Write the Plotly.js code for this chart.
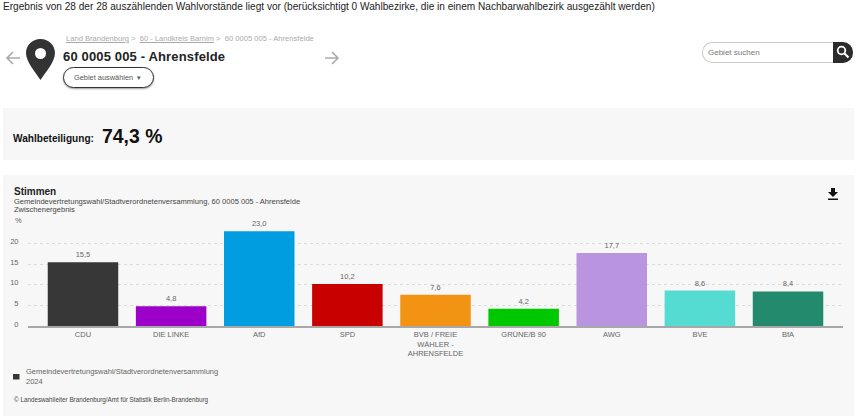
<!DOCTYPE html>
<html lang="de">
<head>
<meta charset="utf-8">
<title>Wahlergebnis Ahrensfelde</title>
<script src="https://cdn.plot.ly/plotly-3.0.1.min.js"></script>
<style>
  html,body{margin:0;padding:0;background:#fff;width:856px;height:417px;overflow:hidden;font-family:"Liberation Sans",Arial,sans-serif}
  .abs{position:absolute;white-space:nowrap}
  #panel1{left:3px;top:108px;width:851px;height:52px;background:#f7f7f7}
  #panel2{left:3px;top:175px;width:851px;height:241px;background:#f7f7f7}
  #chart{position:absolute;left:3px;top:175px;width:851px;height:241px}
  .crumb{font-size:7.6px;color:#aaa}
  .crumb u{color:#aaa}
  #btn{left:63px;top:67px;width:79px;height:19px;border:1px solid #333;border-radius:11px;box-shadow:0 1px 2px #999;font-size:7.4px;color:#555;line-height:19px;padding-left:10px;background:#fff}
  #search{left:702px;top:42px;width:125px;height:19px;border:1px solid #ccc;border-right:0;border-radius:10px 0 0 10px;font-size:8px;color:#777;line-height:19px;padding-left:5px;box-sizing:content-box}
  #searchbtn{left:833px;top:42px;width:20px;height:21px;background:#2b2b2b;border-radius:0 10px 10px 0}
</style>
</head>
<body>
<div class="abs" style="left:3px;top:0;font-size:10.1px;line-height:14px;color:#222">Ergebnis von 28 der 28 auszählenden Wahlvorstände liegt vor (berücksichtigt 0 Wahlbezirke, die in einem Nachbarwahlbezirk ausgezählt werden)</div>

<svg class="abs" style="left:5px;top:50px" width="16" height="16" viewBox="0 0 16 16"><path d="M15 8H2M8 2L2 8l6 6" fill="none" stroke="#aaa" stroke-width="1.6"/></svg>
<svg class="abs" style="left:25px;top:38px" width="32" height="44" viewBox="0 0 32 44"><path fill-rule="evenodd" d="M15.5 1C7 1 1 7.500 1 15c0 9 10 20 14.500 27C20 35 30 24 30 15 30 7.500 24 1 15.500 1zM15.500 10a5.500 5.500 0 1 1 0 11 5.500 5.500 0 0 1 0-11z" fill="#333"/></svg>
<div class="abs crumb" style="left:66px;top:34px"><u>Land Brandenburg</u> &gt;&nbsp; <u>60 - Landkreis Barnim</u> &gt;&nbsp; 60 0005 005 - Ahrensfelde</div>
<div class="abs" style="left:63px;top:49px;font-size:13px;font-weight:bold;color:#222;letter-spacing:.15px">60 0005 005 - Ahrensfelde</div>
<div class="abs" id="btn">Gebiet auswählen &nbsp;▾</div>
<svg class="abs" style="left:324px;top:50px" width="16" height="16" viewBox="0 0 16 16"><path d="M1 8h13M8 2l6 6-6 6" fill="none" stroke="#aaa" stroke-width="1.6"/></svg>

<div class="abs" id="search">Gebiet suchen</div>
<div class="abs" id="searchbtn"><svg width="20" height="20" viewBox="0 0 20 20"><circle cx="8.500" cy="8.500" r="3.800" fill="none" stroke="#fff" stroke-width="1.800"/><path d="M11.500 11.500l4 4" stroke="#fff" stroke-width="2.200"/></svg></div>

<div class="abs" id="panel1"></div>
<div class="abs" style="left:13px;top:133px;font-size:10.1px;font-weight:bold;color:#111">Wahlbeteiligung:</div>
<div class="abs" style="left:102px;top:125px;font-size:19.4px;font-weight:bold;color:#111">74,3 %</div>

<div class="abs" id="panel2"></div>
<div id="chart"></div>
<svg class="abs" style="left:827px;top:188px" width="12" height="13" viewBox="0 0 12 13"><path d="M4 0h4v4h3L6 9 1 4h3z" fill="#111"/><rect x="1" y="10.500" width="10" height="1.500" fill="#111"/></svg>

<script>
// values
const parties = ['CDU','DIE LINKE','AfD','SPD','BVB / FREIE<br>WÄHLER -<br>AHRENSFELDE','GRÜNE/B 90','AWG','BVE','BfA'];
const shares = [15.5,4.8,23.0,10.2,7.6,4.2,17.7,8.6,8.4];
const barColors = ['#373737','#9d00c8','#009ee0','#c80000','#f39314','#00c800','#b995e0','#55dcd2','#248a6e'];
const yTicks = [0,5,10,15,20];
const textColor = '#666';

function note(text,x,y,size,color){
  return {text:text,xref:'paper',yref:'paper',x:x,y:y,xanchor:'left',yanchor:'middle',align:'left',showarrow:false,
    font:{size:size,color:color||textColor},borderpad:0};
}
// pixel position in the panel -> paper coords
const W=851,H=241,ml=25,mr=11,mt=48,mb=90;
const px=x=>(x-3-ml)/(W-ml-mr);
const py=y=>1-(y-175-mt)/(H-mt-mb);

const trace={type:'bar',x:parties,y:shares,width:0.8,
  marker:{color:barColors},
  texttemplate:'%{y:.1f}',textposition:'outside',cliponaxis:false,
  textfont:{size:7.5,color:textColor},hoverinfo:'x+y'};

const layout={
  width:W,height:H,
  margin:{l:ml,r:mr,t:mt,b:mb,pad:0},
  paper_bgcolor:'rgba(0,0,0,0)',plot_bgcolor:'rgba(0,0,0,0)',
  separators:', ',
  font:{family:'"Liberation Sans",Arial,sans-serif',size:7.5,color:textColor},
  showlegend:false,
  title:{text:'<b>Stimmen</b>',x:11/W,xanchor:'left',y:1-16/H,yanchor:'middle',font:{size:10,color:'#222'}},
  xaxis:{type:'category',range:[-0.624,8.624],tickangle:0,showgrid:false,showline:true,linecolor:'#a8a8a8',linewidth:1.5,
    ticks:'',tickfont:{size:7.5,color:textColor},automargin:false},
  yaxis:{range:[0,25],tickvals:yTicks,showline:false,zeroline:false,gridcolor:'#dcdcdc',griddash:'dot',gridwidth:1,
    ticks:'outside',ticklen:7,tickcolor:'rgba(0,0,0,0)',tickfont:{size:7.5,color:textColor},ticklabelshift:-2,automargin:false},
  annotations:[
    note('Gemeindevertretungswahl/Stadtverordnetenversammlung, 60 0005 005 - Ahrensfelde',px(13),py(201),7.55,'#444'),
    note('Zwischenergebnis',px(13),py(209.500),7.55,'#444'),
    note('%',px(14),py(220),7.5),
    note('Gemeindevertretungswahl/Stadtverordnetenversammlung<br>2024',px(25),py(376.500),7.5),
    note('© Landeswahlleiter Brandenburg/Amt für Statistik Berlin-Brandenburg',px(13),py(400),6.3,'#444')
  ],
  shapes:[{type:'rect',xref:'paper',yref:'paper',x0:px(13),x1:px(19.500),y0:py(374),y1:py(379.500),fillcolor:barColors[0],line:{width:0}}]
};

Plotly.newPlot('chart',[trace],layout,{displayModeBar:false,responsive:false});
</script>
</body>
</html>
